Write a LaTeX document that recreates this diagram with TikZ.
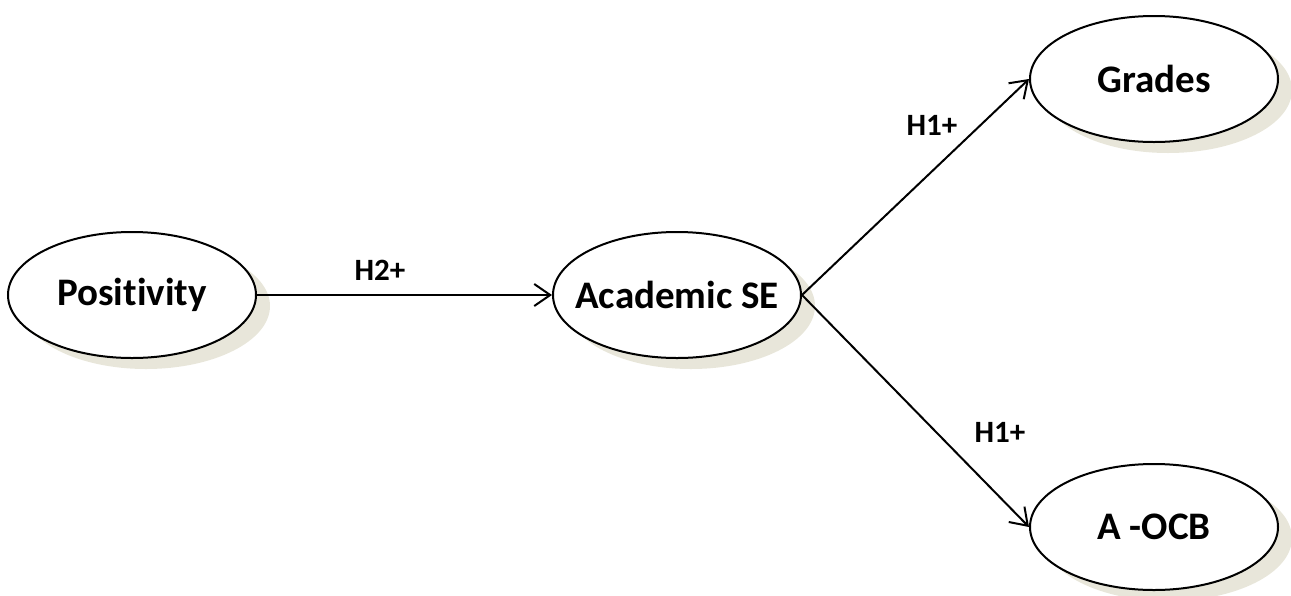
\documentclass[tikz,border=0pt]{standalone}
\usepackage{fontspec}
\setmainfont{Carlito}[Ligatures=NoCommon]
\usetikzlibrary{shapes.geometric,arrows.meta,shadows}
\definecolor{shadowtan}{RGB}{232,230,218}
\tikzset{
  construct/.style={ellipse,draw,line width=2pt,fill=white,
    minimum width=248pt,minimum height=126pt,inner xsep=-40pt,inner ysep=0pt,
    font=\fontsize{39}{46}\selectfont\bfseries,
    drop shadow={shadow xshift=14pt,shadow yshift=-11pt,fill=shadowtan,opacity=1}},
  link/.style={line width=2pt,-{Straight Barb[length=16pt,width=22pt,line width=2pt]}},
  hyp/.style={font=\fontsize{31}{37}\selectfont\bfseries}
}

\begin{document}
\begin{tikzpicture}[x=1pt,y=-1pt]
    \useasboundingbox (0,0) rectangle (1291,595);
    \node[construct] (pos) at (132,295) {Positivity};
    \node[construct] (ase) at (677,295) {Academic SE};
    \node[construct] (grd) at (1154,79) {Grades};
    \node[construct] (ocb) at (1154,527) {A -OCB};
    \draw[link] (pos.east) -- (ase.west);
    \draw[link] (ase.east) -- (grd.west);
    \draw[link] (ase.east) -- (ocb.west);
    \node[hyp] (h2) at (380,270) {H2+};
    \node[hyp] (h1a) at (932,125) {H1+};
    \node[hyp] (h1b) at (1000,432) {H1+};
\end{tikzpicture}
\end{document}
